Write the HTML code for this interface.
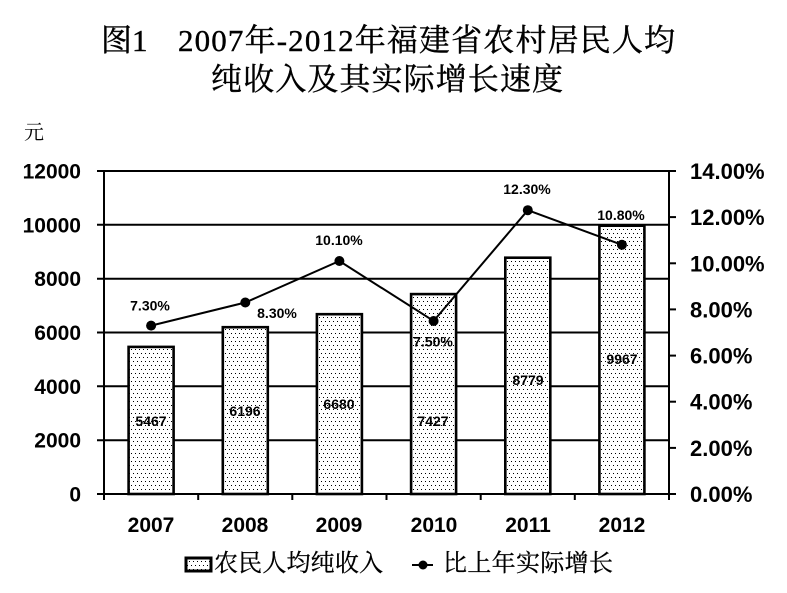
<!DOCTYPE html>
<html><head><meta charset="utf-8"><style>
html,body{margin:0;padding:0;background:#fff;}
svg{display:block;}
.t{font-family:"Liberation Serif","Noto Serif CJK SC",serif;fill:#000;}
.b{font-family:"Liberation Sans",sans-serif;font-weight:bold;fill:#000;}
</style></head><body>
<svg width="787" height="593" viewBox="0 0 787 593" xmlns="http://www.w3.org/2000/svg">
<defs>
<pattern id="dots" x="0" y="0" width="4" height="8" patternUnits="userSpaceOnUse">
<rect width="4" height="8" fill="#fff"/>
<rect x="1" y="1" width="1" height="1" fill="#000"/>
<rect x="3" y="5" width="1" height="1" fill="#000"/>
</pattern>
</defs>
<rect width="787" height="593" fill="#fff"/>
<!-- title -->
<g stroke="#000" stroke-width="0.4">
<text class="t" x="101" y="51" font-size="31">图1</text>
<text class="t" x="178" y="51" font-size="31" textLength="497" lengthAdjust="spacing">2007年-2012年福建省农村居民人均</text>
<text class="t" x="211" y="90" font-size="31" textLength="352" lengthAdjust="spacing">纯收入及其实际增长速度</text>
</g>
<text class="t" x="24" y="139" font-size="20">元</text>

<!-- gridlines -->
<g stroke="#000" stroke-width="2">
<line x1="97" y1="171" x2="669" y2="171"/>
<line x1="97" y1="224.8" x2="669" y2="224.8"/>
<line x1="97" y1="278.7" x2="669" y2="278.7"/>
<line x1="97" y1="332.5" x2="669" y2="332.5"/>
<line x1="97" y1="386.3" x2="669" y2="386.3"/>
<line x1="97" y1="440.2" x2="669" y2="440.2"/>
<line x1="97" y1="494" x2="676" y2="494"/>
</g>
<!-- bars -->
<g fill="url(#dots)" stroke="#000" stroke-width="2.6">
<rect x="128.6" y="346.9" width="45" height="147.1"/>
<rect x="222.8" y="327.2" width="45" height="166.8"/>
<rect x="316.9" y="314.2" width="45" height="179.8"/>
<rect x="411.1" y="294.1" width="45" height="199.9"/>
<rect x="505.3" y="257.7" width="45" height="236.3"/>
<rect x="599.4" y="225.7" width="45" height="268.3"/>
</g>
<!-- axes -->
<g stroke="#000" stroke-width="2">
<line x1="104" y1="170" x2="104" y2="500"/>
<line x1="669" y1="170" x2="669" y2="500"/>
<line x1="198.2" y1="494" x2="198.2" y2="500"/>
<line x1="292.3" y1="494" x2="292.3" y2="500"/>
<line x1="386.5" y1="494" x2="386.5" y2="500"/>
<line x1="480.7" y1="494" x2="480.7" y2="500"/>
<line x1="574.8" y1="494" x2="574.8" y2="500"/>
<line x1="669" y1="171" x2="676" y2="171"/>
<line x1="669" y1="217.1" x2="676" y2="217.1"/>
<line x1="669" y1="263.3" x2="676" y2="263.3"/>
<line x1="669" y1="309.4" x2="676" y2="309.4"/>
<line x1="669" y1="355.6" x2="676" y2="355.6"/>
<line x1="669" y1="401.7" x2="676" y2="401.7"/>
<line x1="669" y1="447.9" x2="676" y2="447.9"/>
</g>
<!-- bar labels -->
<g class="b" font-size="14" text-anchor="middle">
<text x="151" y="426">5467</text>
<text x="245" y="416">6196</text>
<text x="339" y="409">6680</text>
<text x="433" y="426">7427</text>
<text x="528" y="385">8779</text>
<text x="622" y="364">9967</text>
</g>
<!-- line series -->
<polyline points="151.1,325.6 245.3,302.5 339.4,261 433.6,321 527.8,210.2 621.9,244.8" fill="none" stroke="#000" stroke-width="2"/>
<g fill="#000">
<circle cx="151.1" cy="325.6" r="5"/>
<circle cx="245.3" cy="302.5" r="5"/>
<circle cx="339.4" cy="261" r="5"/>
<circle cx="433.6" cy="321" r="5"/>
<circle cx="527.8" cy="210.2" r="5"/>
<circle cx="621.9" cy="244.8" r="5"/>
</g>
<g class="b" font-size="14" text-anchor="middle">
<text x="150" y="310.5">7.30%</text>
<text x="277" y="318">8.30%</text>
<text x="339" y="245">10.10%</text>
<text x="433" y="346.5">7.50%</text>
<text x="527" y="194">12.30%</text>
<text x="621" y="220">10.80%</text>
</g>
<!-- left axis labels -->
<g class="b" font-size="21" text-anchor="end">
<text x="81" y="178.5">12000</text>
<text x="81" y="232.3">10000</text>
<text x="81" y="286.2">8000</text>
<text x="81" y="340">6000</text>
<text x="81" y="393.8">4000</text>
<text x="81" y="447.7">2000</text>
<text x="81" y="501.5">0</text>
</g>
<!-- right axis labels -->
<g class="b" font-size="22">
<text x="690" y="179">14.00%</text>
<text x="690" y="225.1">12.00%</text>
<text x="690" y="271.3">10.00%</text>
<text x="690" y="317.4">8.00%</text>
<text x="690" y="363.6">6.00%</text>
<text x="690" y="409.7">4.00%</text>
<text x="690" y="455.9">2.00%</text>
<text x="690" y="502">0.00%</text>
</g>
<!-- x labels -->
<g class="b" font-size="21" text-anchor="middle">
<text x="151" y="532">2007</text>
<text x="245" y="532">2008</text>
<text x="339" y="532">2009</text>
<text x="434" y="532">2010</text>
<text x="528" y="532">2011</text>
<text x="622" y="532">2012</text>
</g>
<!-- legend -->
<rect x="186" y="558" width="25" height="13" fill="url(#dots)" stroke="#000" stroke-width="3"/>
<g stroke="#000" stroke-width="0.3">
<text class="t" x="214" y="571" font-size="24" textLength="169" lengthAdjust="spacing">农民人均纯收入</text>
<text class="t" x="443" y="571" font-size="24" textLength="170" lengthAdjust="spacing">比上年实际增长</text>
</g>
<line x1="412" y1="565" x2="433" y2="565" stroke="#000" stroke-width="2"/>
<circle cx="423" cy="565" r="4.5" fill="#000"/>
</svg>
</body></html>
